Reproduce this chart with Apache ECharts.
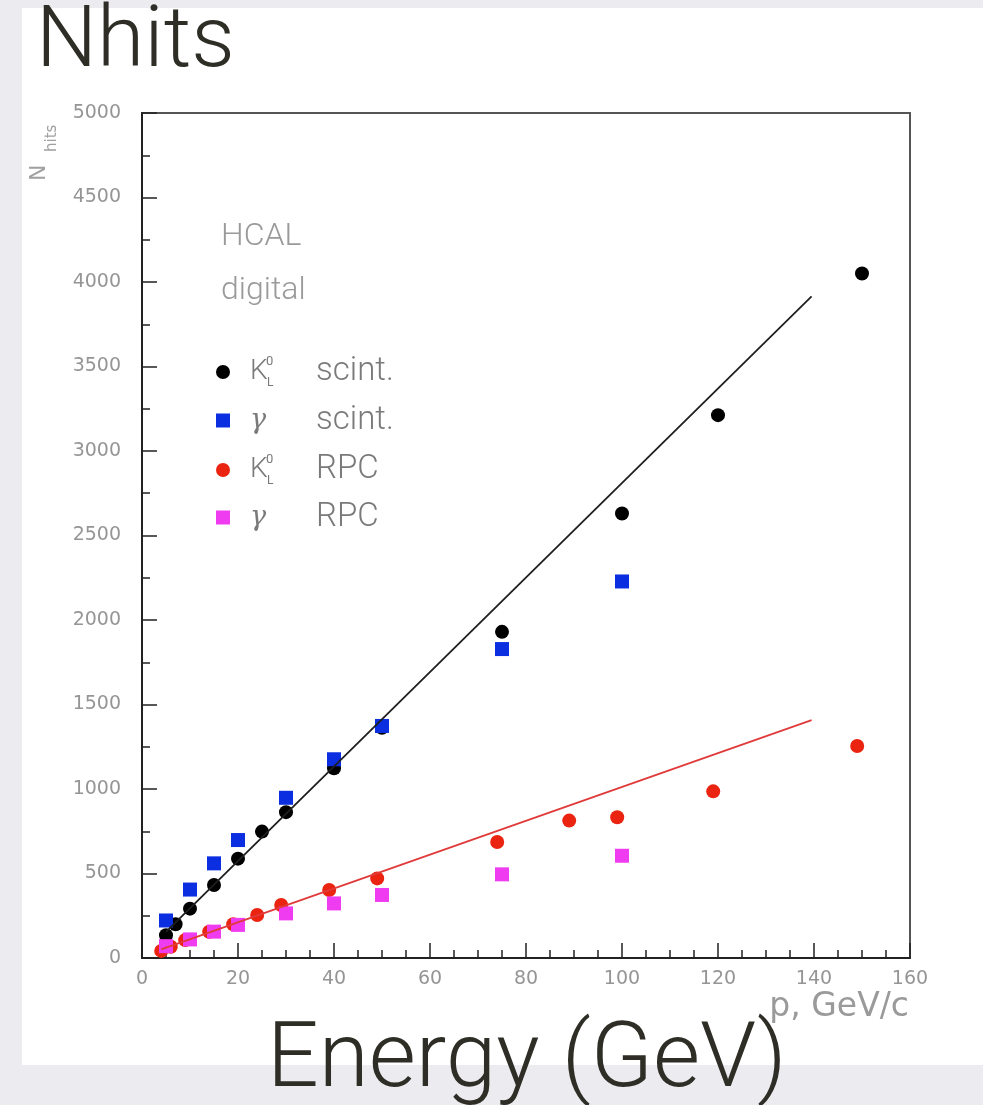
<!DOCTYPE html>
<html>
<head>
<meta charset="utf-8">
<script src="https://cdn.jsdelivr.net/npm/echarts@6/dist/echarts.min.js"></script>
<style>
  html, body { margin: 0; padding: 0; background: #ececf0; }
  #card { position: absolute; left: 22px; top: 8px; width: 961px; height: 1057px; background: #fff; }
  #main { position: absolute; left: 0; top: 0; width: 983px; height: 1105px; }
</style>
</head>
<body>
<div id="card"></div>
<div id="main"></div>
<script>
// 数据点
const kScintX = [5, 7, 10, 15, 20, 25, 30, 40, 50, 75, 100, 120, 150];
const kScintY = [135, 200, 292, 432, 588, 748, 863, 1123, 1362, 1930, 2630, 3212, 4050];
const gScintX = [5, 10, 15, 20, 30, 40, 50, 75, 100];
const gScintY = [222, 405, 560, 698, 948, 1176, 1373, 1828, 2228];
const kRpcX = [4, 6, 9, 14, 19, 24, 29, 39, 49, 74, 89, 99, 119, 149];
const kRpcY = [42, 67, 106, 155, 200, 254, 314, 402, 471, 686, 813, 833, 986, 1254];
const gRpcX = [5, 10, 15, 20, 30, 40, 50, 75, 100];
const gRpcY = [70, 110, 156, 196, 264, 323, 373, 495, 605];
// 拟合直线端点
const fitScintX = [5, 139.5];
const fitScintY = [155, 3915];
const fitRpcX = [4, 139.5];
const fitRpcY = [51, 1408];

const names = ['K scint.', 'γ scint.', 'K RPC', 'γ RPC'];
const legendRows = [355, 404, 453, 501];

const zip = (xs, ys) => xs.map((x, i) => [x, ys[i]]);

const labelFont = { color: '#959595', fontSize: 19, fontFamily: 'DejaVu Sans' };
const grey = '#7a7a7a';
/* 图例文字：K 带上标 0、下标 L */
const rich = {
  pad: { fontSize: 10, width: 15, lineHeight: 34 },
  k: { fontSize: 28, color: grey, fontFamily: 'Roboto', fontWeight: 300, width: 16, lineHeight: 34 },
  g: { fontSize: 27, color: grey, fontFamily: 'DejaVu Serif', fontStyle: 'italic', width: 66, lineHeight: 34 },
  sup: { fontSize: 13, color: grey, fontFamily: 'Roboto', width: 1, lineHeight: 16, verticalAlign: 'top' },
  sub: { fontSize: 12, color: grey, fontFamily: 'Roboto', width: 49, lineHeight: 14, verticalAlign: 'bottom' },
  d: { fontSize: 33, color: grey, fontFamily: 'Roboto', fontWeight: 300, lineHeight: 34 }
};
const fmt = (name) => {
  const parts = name.split(' ');
  if (parts[0] === 'K') return '{pad| }{k|K}{sup|0}{sub|L}{d|' + parts[1] + '}';
  return '{pad| }{g|γ}{d|' + parts[1] + '}';
};

const chart = echarts.init(document.getElementById('main'));

const option = {
  backgroundColor: 'transparent',
  animation: false,
  title: [
    { text: 'Nhits', left: 36, top: 1, padding: 0,
      textStyle: { fontSize: 86, fontFamily: 'Roboto', fontWeight: 300, color: '#2e2e27' } },
    { text: 'Energy (GeV)', left: 267, top: 1018, padding: 0,
      textStyle: { fontSize: 91, fontFamily: 'Roboto', fontWeight: 300, color: '#2e2e27' } },
    { text: 'HCAL\ndigital', left: 221, top: 210, padding: 0,
      textStyle: { fontSize: 32, fontFamily: 'Roboto', fontWeight: 300, color: '#9a9a9a', lineHeight: 54 } },
    { text: 'p, GeV/c', right: 74, top: 991, padding: 0,
      textStyle: { fontSize: 33, fontFamily: 'DejaVu Sans', fontWeight: 'normal', color: '#9a9a9a' } }
  ],
  graphic: [
    { type: 'text', x: 28, y: 181, rotation: Math.PI / 2,
      style: { text: 'N', fontSize: 22, fontFamily: 'DejaVu Sans', fill: '#a0a0a0' } },
    { type: 'text', x: 45, y: 152, rotation: Math.PI / 2,
      style: { text: 'hits', fontSize: 15, fontFamily: 'DejaVu Sans', fill: '#a0a0a0' } }
  ],
  legend: names.map((n, i) => ({
    data: [n],
    left: 216,
    top: legendRows[i],
    orient: 'vertical',
    itemWidth: 14,
    itemHeight: 14,
    selectedMode: false,
    padding: 0,
    formatter: fmt,
    textStyle: { rich: rich }
  })),
  grid: {
    left: 142, right: 73, top: 113, bottom: 147,
    show: true, borderColor: '#555', borderWidth: 2, backgroundColor: 'transparent'
  },
  xAxis: {
    type: 'value', min: 0, max: 160, interval: 20,
    axisLine: { lineStyle: { color: '#222', width: 2 } },
    axisTick: { inside: true, length: 15, lineStyle: { color: '#222', width: 1.5 } },
    minorTick: { show: true, splitNumber: 4, length: 8, lineStyle: { color: '#222', width: 1.5 } },
    axisLabel: Object.assign({ margin: 12, formatter: (v) => String(v) }, labelFont),
    splitLine: { show: false }
  },
  yAxis: {
    type: 'value', min: 0, max: 5000, interval: 500,
    axisLine: { show: true, lineStyle: { color: '#222', width: 2 } },
    axisTick: { show: true, inside: true, length: 15, lineStyle: { color: '#222', width: 1.5 } },
    minorTick: { show: true, splitNumber: 2, length: 8, lineStyle: { color: '#222', width: 1.5 } },
    axisLabel: Object.assign({ margin: 21, formatter: (v) => String(v) }, labelFont),
    splitLine: { show: false }
  },
  series: [
    { type: 'line', data: zip(fitScintX, fitScintY), symbol: 'none', silent: true,
      lineStyle: { color: '#1e1e1e', width: 1.8 } },
    { type: 'line', data: zip(fitRpcX, fitRpcY), symbol: 'none', silent: true,
      lineStyle: { color: '#e03a3a', width: 1.8 } },
    { name: names[0], type: 'scatter', data: zip(kScintX, kScintY), symbol: 'circle', symbolSize: 14,
      itemStyle: { color: '#000', opacity: 1 } },
    { name: names[1], type: 'scatter', data: zip(gScintX, gScintY), symbol: 'rect', symbolSize: 14,
      itemStyle: { color: '#0a2ee0', opacity: 1 } },
    { name: names[2], type: 'scatter', data: zip(kRpcX, kRpcY), symbol: 'circle', symbolSize: 14,
      itemStyle: { color: '#ea2410', opacity: 1 } },
    { name: names[3], type: 'scatter', data: zip(gRpcX, gRpcY), symbol: 'rect', symbolSize: 14,
      itemStyle: { color: '#f03cf0', opacity: 1 } }
  ]
};

chart.setOption(option);
window.addEventListener('resize', () => chart.resize());
</script>
</body>
</html>
